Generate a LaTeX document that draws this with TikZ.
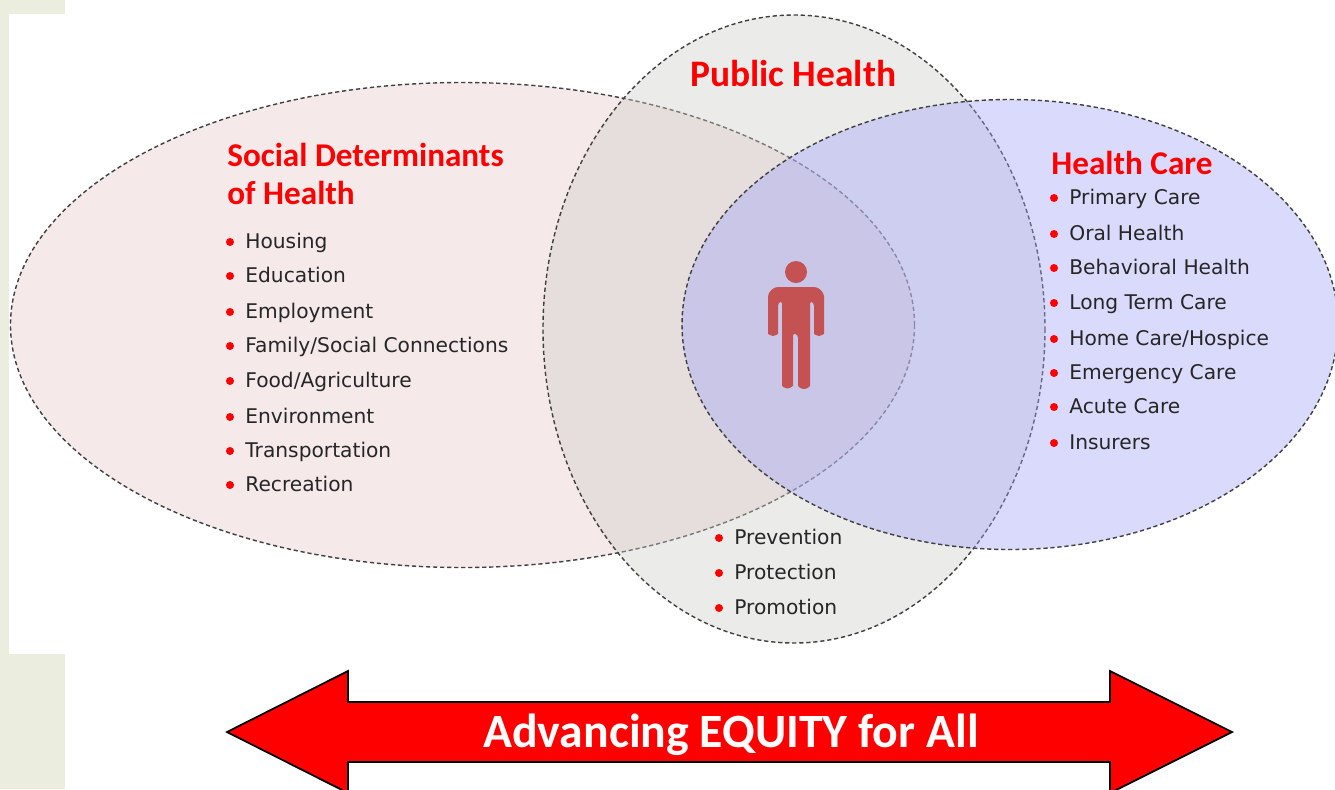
\documentclass[tikz,border=0pt]{standalone}
\usepackage{fontspec}
\setmainfont{DejaVu Sans}
\newfontfamily\headfont{Carlito}
\usepackage{xcolor}
\usetikzlibrary{positioning}

\definecolor{bandgreen}{HTML}{EBEEDF}
\definecolor{socialfill}{RGB}{230,200,200}
\definecolor{publicfill}{RGB}{205,205,200}
\definecolor{carefill}{RGB}{162,162,250}
\definecolor{personred}{RGB}{197,82,82}

\begin{document}
\begin{tikzpicture}[
    x=0.02cm, y=-0.02cm,
    band/.style={fill=bandgreen, draw=none},
    venn/.style={draw=black!75, line width=0.8pt, dash pattern=on 2.4pt off 1.6pt},
    heading/.style={anchor=west, inner sep=0pt, text=red, align=left, font=\headfont\bfseries\fontsize{18.9}{21.5}\selectfont},
    listitem/.style={anchor=west, inner sep=0pt, text height=9pt, text depth=2.5pt, text=black!85, font=\fontsize{11.5}{13}\selectfont},
    bulletdot/.style={fill=red, draw=none},
    personpart/.style={fill=personred, draw=none},
    equity/.style={fill=red, draw=black, line width=1pt, line join=miter}
]
\clip (0,0) rectangle (1335,789);
\useasboundingbox (0,0) rectangle (1335,789);

% left band
\fill[band] (0,0) rectangle (65,14);
\fill[band] (0,0) rectangle (9,789);
\fill[band] (0,654) rectangle (65,789);

% the three ellipses
\path[venn, fill=socialfill, fill opacity=0.4] (462.5,325) ellipse [x radius=452, y radius=242.5];
\path[venn, fill=publicfill, fill opacity=0.4] (794,329) ellipse [x radius=251, y radius=314];
\path[venn, fill=carefill, fill opacity=0.4] (1010,324.5) ellipse [x radius=328, y radius=225];

% person
\fill[personpart] (796,272) circle [radius=11];
\fill[personpart, rounded corners=1.5pt]
    (768,331) -- (768,299) to[out=90,in=180] (780,287) -- (812,287) to[out=0,in=90] (824,299)
    -- (824,331) arc[start angle=0,end angle=180,radius=5] -- (814,303) -- (810,301) -- (810,383)
    arc[start angle=0,end angle=180,radius=6] -- (798,335) -- (793,333) -- (793,383)
    arc[start angle=0,end angle=180,radius=5.5] -- (782,301) -- (778,303) -- (778,331)
    arc[start angle=0,end angle=180,radius=5] -- cycle;

% headings
\node[heading, font=\headfont\bfseries\fontsize{21.3}{24}\selectfont] (publichead) at (690,73) {Public Health};
\node[heading] (socialhead) at (227,174) {Social Determinants\\of Health};
\node[heading] (carehead) at (1051,163) {Health Care};

% lists
\foreach \nm/\xx/\yy/\txt in {housing/245/243/Housing, education/245/277/Education, employment/245/313/Employment,
    family/245/347/Family\slash Social Connections, food/245/382/Food\slash Agriculture, environment/245/418/Environment,
    transportation/245/452/Transportation, recreation/245/486/Recreation,
    primary/1069/199/Primary Care, oral/1069/235/Oral Health, behavioral/1069/269/Behavioral Health,
    longterm/1069/304/Long Term Care, home/1069/340/Home Care\slash Hospice, emergency/1069/374/Emergency Care,
    acute/1069/408/Acute Care, insurers/1069/444/Insurers,
    prevention/734/539/Prevention, protection/734/574/Protection, promotion/734/609/Promotion} {
    \node[listitem] (\nm) at (\xx,\yy) {\txt};
    \fill[bulletdot] (\nm.west) ++(-15,-1) circle [radius=4];
}

% arrow
\draw[equity] (227,732) -- (348,671) -- (348,702) -- (1110,702) -- (1110,671) -- (1232,732)
    -- (1110,793) -- (1110,762) -- (348,762) -- (348,793) -- cycle;
\node[text=white, inner sep=0pt, font=\headfont\bfseries\fontsize{27.2}{30}\selectfont] (equitylabel) at (731,735) {Advancing EQUITY for All};
\end{tikzpicture}
\end{document}
